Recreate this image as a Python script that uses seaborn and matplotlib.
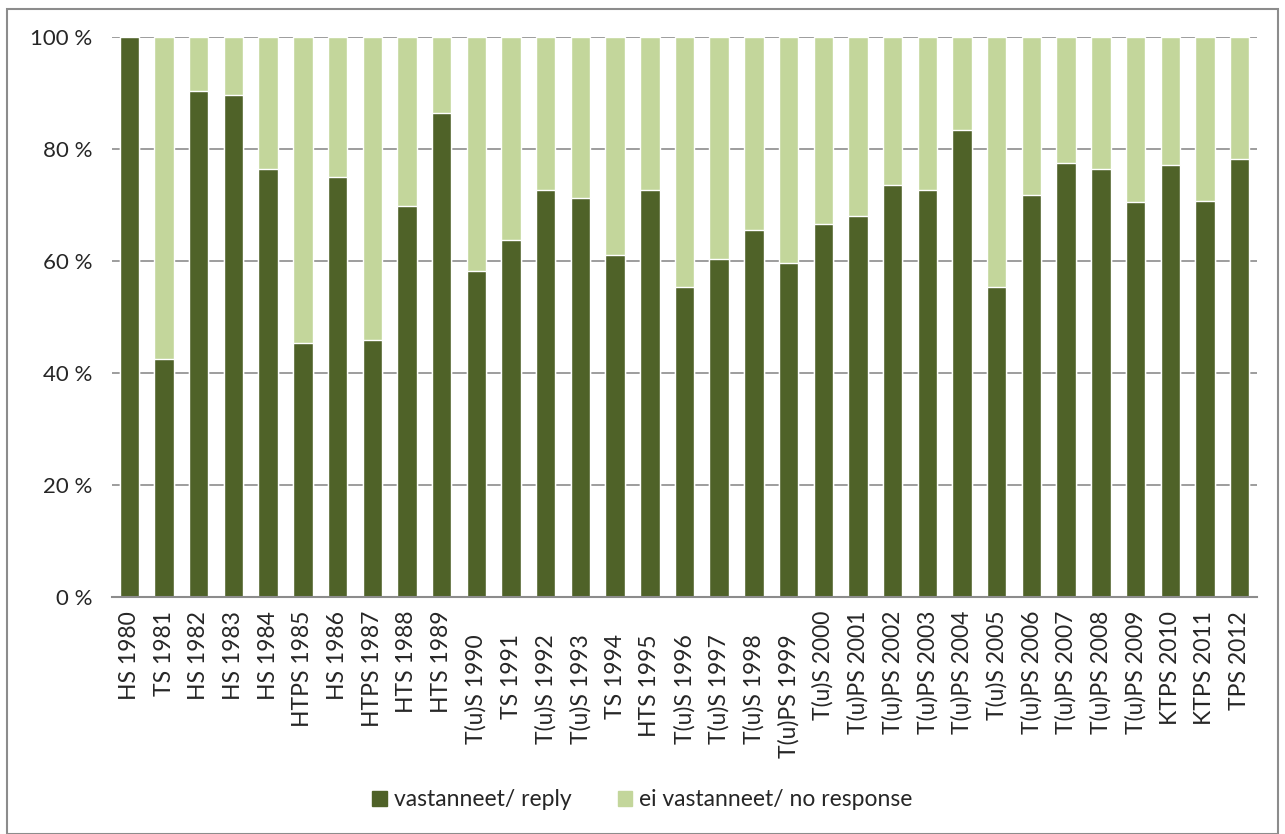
import numpy as np
import pandas as pd
import seaborn as sns
import matplotlib.pyplot as plt
from matplotlib.patches import Rectangle, Patch

# survey response rates, share of replies (%)
# (1990s labels carry trailing spaces in the original sheet)
labels = ['HS 1980', 'TS 1981', 'HS 1982', 'HS 1983', 'HS 1984', 'HTPS 1985', 'HS 1986',
          'HTPS 1987', 'HTS 1988', 'HTS 1989', 'T(u)S 1990    ', 'TS 1991    ',
          'T(u)S 1992    ', 'T(u)S 1993    ', 'TS 1994    ', 'HTS 1995    ',
          'T(u)S 1996    ', 'T(u)S 1997    ', 'T(u)S 1998    ', 'T(u)PS 1999    ',
          'T(u)S 2000', 'T(u)PS 2001', 'T(u)PS 2002', 'T(u)PS 2003',
          'T(u)PS 2004', 'T(u)S 2005', 'T(u)PS 2006', 'T(u)PS 2007', 'T(u)PS 2008',
          'T(u)PS 2009', 'KTPS 2010', 'KTPS 2011', 'TPS 2012']
reply = [100, 42.5, 90.4, 89.7, 76.4, 45.3, 75.0, 45.9, 69.8, 86.5, 58.2, 63.8, 72.6,
         71.2, 61.0, 72.6, 55.4, 60.4, 65.6, 59.6, 66.6, 68.0, 73.6, 72.6, 83.4, 55.4,
         71.8, 77.5, 76.4, 70.5, 77.2, 70.8, 78.2]
no_response = [100 - r for r in reply]

dark = '#4f6228'
light = '#c3d69b'

df = pd.DataFrame({'label': labels, 'reply': reply, 'no_response': no_response})
df['total'] = df['reply'] + df['no_response']

sns.set_style('white')
plt.rcParams['font.family'] = ['Lato', 'DejaVu Sans']

fig = plt.figure(figsize=(12.85, 8.34), dpi=100)
ax = fig.add_axes([112 / 1285, 1 - 597 / 834, (1257 - 112) / 1285, (597 - 37) / 834])

sns.barplot(data=df, x='label', y='total', color=light, width=0.56, ax=ax, saturation=1)
sns.barplot(data=df, x='label', y='reply', color=dark, width=0.56, ax=ax, saturation=1)

ax.set_ylim(0, 100)
ax.set_xlim(-0.5, len(labels) - 0.5)
ax.set_yticks(range(0, 101, 20))
ax.set_yticklabels([f'{v} %' for v in range(0, 101, 20)], fontsize=16)
ax.yaxis.grid(True, color='#8c8c8c', linewidth=1.2)
ax.set_axisbelow(True)
ax.tick_params(axis='x', rotation=90, labelsize=16.5, length=0, pad=10)
ax.tick_params(axis='y', length=0, pad=14)
ax.set_xlabel('')
ax.set_ylabel('')
for s in ['left', 'right', 'top']:
    ax.spines[s].set_visible(False)
ax.spines['bottom'].set_color('#8c8c8c')
ax.spines['bottom'].set_linewidth(1.5)

handles = [Patch(color=dark, label='vastanneet/ reply'),
           Patch(color=light, label='ei vastanneet/ no response')]
fig.legend(handles=handles, loc='center', bbox_to_anchor=(0.5, 1 - 800 / 834), ncol=2,
           frameon=False, fontsize=16.5, handlelength=0.65, handleheight=0.65,
           handletextpad=0.3, columnspacing=2.0)

# outer chart border
fig.patches.append(Rectangle((7 / 1285, 0.0), 1 - 14 / 1285, 1 - 9 / 834,
                             transform=fig.transFigure, fill=False,
                             edgecolor='#8c8c8c', linewidth=1.5))

fig.savefig('out.png', dpi=100)
